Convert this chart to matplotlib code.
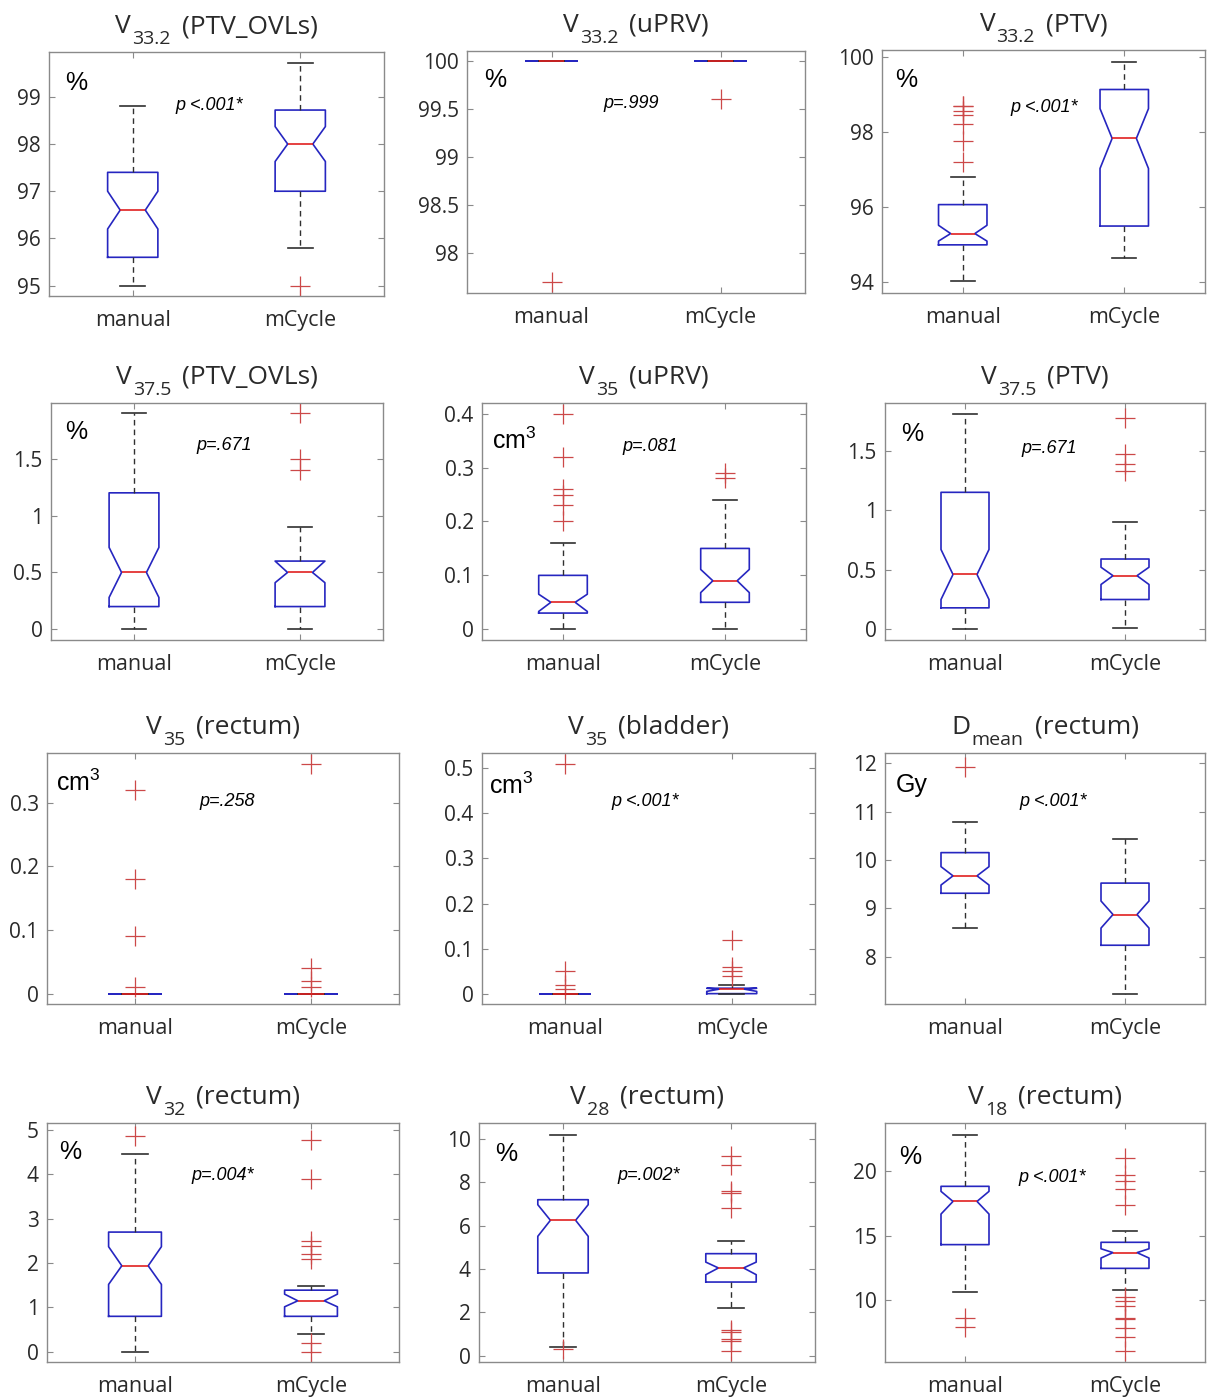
import numpy as np
import matplotlib
matplotlib.use("Agg")
import matplotlib.pyplot as plt

W, H = 1210, 1397

# ---- data ----
groups = ["manual", "mCycle"]

title_main = ["V", "V", "V", "V", "V", "V", "V", "V", "D", "V", "V", "V"]
title_sub = ["33.2", "33.2", "33.2", "37.5", "35", "37.5", "35", "35", "mean", "32", "28", "18"]
title_roi = ["PTV_OVLs", "uPRV", "PTV", "PTV_OVLs", "uPRV", "PTV",
             "rectum", "bladder", "rectum", "rectum", "rectum", "rectum"]
units = ["%", "%", "%", "%", "cm3", "%", "cm3", "cm3", "Gy", "%", "%", "%"]
p_labels = ["p <.001*", "p=.999", "p <.001*", "p=.671", "p=.081", "p=.671",
            "p=.258", "p <.001*", "p <.001*", "p=.004*", "p=.002*", "p <.001*"]

ylims = [(94.78, 99.95), (97.59, 100.10), (93.72, 100.18), (-0.094, 1.99),
         (-0.02, 0.42), (-0.09, 1.90), (-0.016, 0.378), (-0.023, 0.534),
         (7.02, 12.21), (-0.23, 5.16), (-0.29, 10.74), (5.22, 23.75)]
yticks = [[95, 96, 97, 98, 99], [98, 98.5, 99, 99.5, 100], [94, 96, 98, 100],
          [0, 0.5, 1, 1.5], [0, 0.1, 0.2, 0.3, 0.4], [0, 0.5, 1, 1.5],
          [0, 0.1, 0.2, 0.3], [0, 0.1, 0.2, 0.3, 0.4, 0.5], [8, 9, 10, 11, 12],
          [0, 1, 2, 3, 4, 5], [0, 2, 4, 6, 8, 10], [10, 15, 20]]

# manual: whisker low, q1, median, q3, whisker high, notch low, notch high
man_lo = [95.0, 100, 94.05, 0, 0, 0, 0, 0, 8.59, 0.0, 0.4, 10.67]
man_q1 = [95.6, 100, 95.0, 0.2, 0.03, 0.18, 0, 0, 9.31, 0.8, 3.82, 14.32]
man_med = [96.6, 100, 95.3, 0.5, 0.05, 0.46, 0, 0, 9.67, 1.94, 6.25, 17.67]
man_q3 = [97.4, 100, 96.07, 1.2, 0.1, 1.15, 0, 0, 10.15, 2.7, 7.2, 18.84]
man_hi = [98.8, 100, 96.8, 1.9, 0.16, 1.81, 0, 0, 10.78, 4.47, 10.2, 22.84]
man_nlo = [96.2, 100, 95.1, 0.28, 0.033, 0.25, 0, 0, 9.48, 1.52, 5.51, 16.69]
man_nhi = [97.0, 100, 95.52, 0.72, 0.065, 0.67, 0, 0, 9.86, 2.37, 6.97, 18.45]
man_fl = [[], [97.7], [98.7, 98.68, 98.55, 98.45, 98.2, 97.75, 97.2], [],
          [0.4, 0.32, 0.26, 0.25, 0.23, 0.2], [], [0.32, 0.18, 0.09, 0.01],
          [0.51, 0.05, 0.02, 0.01], [11.93], [4.87], [0.31], [8.63, 7.96]]

mc_lo = [95.8, 100, 94.65, 0, 0, 0.01, 0, 0, 7.23, 0.4, 2.2, 10.78]
mc_q1 = [97.0, 100, 95.5, 0.2, 0.05, 0.25, 0, 0, 8.235, 0.8, 3.4, 12.48]
mc_med = [98.0, 100, 97.83, 0.5, 0.09, 0.45, 0, 0.01, 8.87, 1.15, 4.05, 13.7]
mc_q3 = [98.72, 100, 99.13, 0.6, 0.15, 0.59, 0, 0.012, 9.52, 1.39, 4.71, 14.5]
mc_hi = [99.71, 100, 99.87, 0.9, 0.24, 0.9, 0, 0.02, 10.43, 1.49, 5.31, 15.4]
mc_nlo = [97.63, 100, 97.03, 0.41, 0.068, 0.376, 0, 0.005, 8.59, 1.015, 3.74, 13.28]
mc_nhi = [98.37, 100, 98.62, 0.6, 0.111, 0.521, 0, 0.012, 9.15, 1.30, 4.32, 14.0]
mc_fl = [[95.0], [99.6], [], [1.9, 1.5, 1.4], [0.29, 0.28],
         [1.775, 1.47, 1.39, 1.33], [0.36, 0.04, 0.02, 0.01],
         [0.12, 0.06, 0.05, 0.04], [], [4.77, 3.9, 2.5, 2.39, 2.2, 2.09, 0.2, 0.0],
         [9.2, 8.78, 7.58, 7.5, 6.82, 1.2, 1.11, 0.78, 0.69, 0.2],
         [21.03, 19.69, 19.22, 18.66, 17.42, 10.23, 9.92, 9.59, 8.63, 8.55,
          7.86, 7.16, 6.05]]

# ---- layout (pixel boxes: left, top, right, bottom) ----
axes_px = [(49, 52, 384, 296), (467, 51, 805, 293), (882, 50, 1205, 293),
           (51, 403, 383, 640), (482, 403, 806, 640), (885, 403, 1205, 640),
           (47, 753, 399, 1004), (482, 753, 815, 1004), (885, 753, 1205, 1004),
           (47, 1123, 399, 1362), (479, 1123, 815, 1362), (885, 1123, 1205, 1362)]
unit_px = [(65, 90), (484, 87), (895, 87), (65, 439), (492, 449), (901, 441),
           (56, 791), (489, 794), (896, 792), (59, 1159), (495, 1161), (899, 1164)]
p_px = [(175, 110), (603, 108), (1010, 112), (196, 450), (622, 451), (1021, 453),
        (199, 806), (611, 806), (1019, 806), (191, 1180), (617, 1180), (1018, 1182)]

BLUE = "#2626c0"
RED = "#e02020"
FLIER = "#cc4848"
SPINE = "#8a8a8a"
TXT = "#2a2a2a"
FONT = "Open Sans"

fig = plt.figure(figsize=(W / 100, H / 100), dpi=100)
fig.patch.set_facecolor("white")
renderer = fig.canvas.get_renderer()


def title_parts(ax_box, main, sub, roi):
    # MATLAB-like title: big letter, lowered subscript, then the structure name
    l, t, r, b = ax_box
    kw = dict(fontfamily=FONT, color=TXT, va="baseline", ha="left")
    t1 = fig.text(0, 0, main, fontsize=19, **kw)
    t2 = fig.text(0, 0, sub, fontsize=14, **kw)
    t3 = fig.text(0, 0, "(" + roi + ")", fontsize=19, **kw)
    w1 = t1.get_window_extent(renderer).width
    w2 = t2.get_window_extent(renderer).width
    w3 = t3.get_window_extent(renderer).width
    gap = 11
    x0 = (l + r) / 2 - (w1 + 1 + w2 + gap + w3) / 2
    base = t - 19
    t1.set_position((x0 / W, 1 - base / H))
    t2.set_position(((x0 + w1 + 1) / W, 1 - (base + 11) / H))
    t3.set_position(((x0 + w1 + 1 + w2 + gap) / W, 1 - base / H))


for i in range(12):
    l, t, r, b = axes_px[i]
    ax = fig.add_axes([l / W, 1 - b / H, (r - l) / W, (b - t) / H])

    stats = [
        dict(whislo=man_lo[i], q1=man_q1[i], med=man_med[i], q3=man_q3[i],
             whishi=man_hi[i], cilo=man_nlo[i], cihi=man_nhi[i], fliers=man_fl[i]),
        dict(whislo=mc_lo[i], q1=mc_q1[i], med=mc_med[i], q3=mc_q3[i],
             whishi=mc_hi[i], cilo=mc_nlo[i], cihi=mc_nhi[i], fliers=mc_fl[i]),
    ]
    ax.bxp(stats, positions=[1, 2], widths=0.3, shownotches=True,
           boxprops=dict(color=BLUE, linewidth=1.2),
           medianprops=dict(color=RED, linewidth=1.2),
           whiskerprops=dict(color="#303030", linewidth=1.0, linestyle=(0, (4, 3))),
           capprops=dict(color="#303030", linewidth=1.2),
           flierprops=dict(marker="+", markersize=15, markeredgecolor=FLIER,
                           markeredgewidth=0.9, linestyle="none"))

    ax.set_xlim(0.5, 2.5)
    ax.set_ylim(*ylims[i])
    ax.set_xticks([1, 2], labels=groups, fontfamily=FONT, fontsize=15.5)
    ax.set_yticks(yticks[i], labels=[f"{v:g}" for v in yticks[i]],
                  fontfamily=FONT, fontsize=15)
    ax.tick_params(direction="in", length=4, width=0.8, color=SPINE,
                   labelcolor=TXT, top=True, right=True)
    ax.tick_params(axis="x", pad=10)
    ax.tick_params(axis="y", pad=6)
    for s in ax.spines.values():
        s.set_color(SPINE)
        s.set_linewidth(1.0)

    title_parts(axes_px[i], title_main[i], title_sub[i], title_roi[i])

    ux, uy = unit_px[i]
    utxt = r"cm$\mathregular{^3}$" if units[i] == "cm3" else units[i]
    fig.text(ux / W, 1 - uy / H, utxt, fontfamily="Liberation Sans",
             fontsize=18, color="black", ha="left", va="baseline")

    px, py = p_px[i]
    fig.text(px / W, 1 - py / H, p_labels[i], fontfamily="Liberation Sans",
             fontstyle="italic", fontsize=13, color="black", ha="left", va="baseline")

fig.savefig("out.png", dpi=100, facecolor="white")
